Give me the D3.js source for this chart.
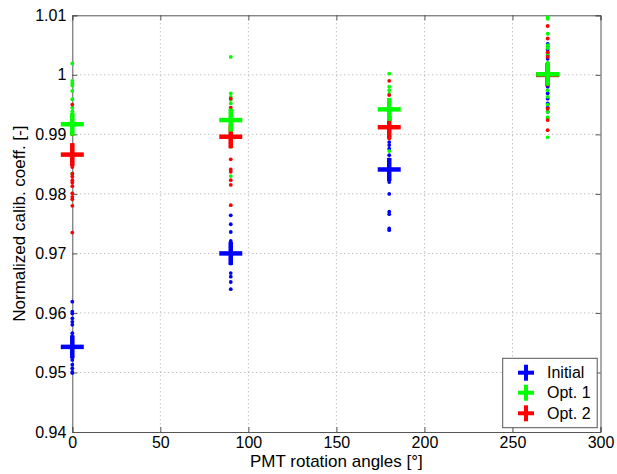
<!DOCTYPE html>
<html><head><meta charset="utf-8">
<script src="https://cdn.jsdelivr.net/npm/d3@7"></script>
<style>
body{margin:0;background:#fff;}
text{font-family:Arial,"Liberation Sans",Helvetica,sans-serif;}
</style></head>
<body><svg id="c" width="617" height="474"></svg>
<script>
const angles = [0, 90, 180, 270];
const xTicks = [0, 50, 100, 150, 200, 250, 300];
const yTicks = [0.94, 0.95, 0.96, 0.97, 0.98, 0.99, 1, 1.01];
const yTickLabels = ["0.94", "0.95", "0.96", "0.97", "0.98", "0.99", "1", "1.01"];
const seriesNames = ["Initial", "Opt. 1", "Opt. 2"];
const seriesColors = ["#0000ff", "#00ff00", "#ff0000"];

const initialMeans = [0.9543, 0.9700, 0.9841, 1.0000];
const opt1Means = [0.9917, 0.9924, 0.9942, 1.0001];
const opt2Means = [0.9866, 0.9896, 0.9912, 1.0000];

const initialDots = [
  [0.9619, 0.9602, 0.9599, 0.9591, 0.9585, 0.9580, 0.9566, 0.9560, 0.9556, 0.9550, 0.9546, 0.9540, 0.9536, 0.9531, 0.9526, 0.9521, 0.9513, 0.9507, 0.9501, 0.9499],
  [0.9764, 0.9749, 0.9736, 0.9721, 0.9715, 0.9710, 0.9706, 0.9702, 0.9698, 0.9694, 0.9690, 0.9686, 0.9683, 0.9667, 0.9661, 0.9652, 0.9640],
  [0.9887, 0.9882, 0.9876, 0.9865, 0.9858, 0.9850, 0.9845, 0.9840, 0.9835, 0.9830, 0.9825, 0.9820, 0.9800, 0.9770, 0.9766, 0.9742, 0.9739],
  [1.0052, 1.0047, 1.0042, 1.0037, 1.0032, 1.0027, 1.0010, 1.0000, 0.9990, 0.9980, 0.9969, 0.9960, 0.9952, 0.9945, 0.9938]
];
const opt1Dots = [
  [1.0019, 0.9990, 0.9986, 0.9982, 0.9973, 0.9959, 0.9945, 0.9939, 0.9930, 0.9925, 0.9920, 0.9915, 0.9910, 0.9905, 0.9900, 0.9834],
  [1.0030, 0.9969, 0.9963, 0.9958, 0.9952, 0.9940, 0.9930, 0.9924, 0.9918, 0.9910, 0.9900, 0.9891, 0.9879, 0.9830],
  [1.0002, 0.9980, 0.9974, 0.9968, 0.9955, 0.9950, 0.9945, 0.9940, 0.9935, 0.9930, 0.9920, 0.9909, 0.9872],
  [1.0097, 1.0094, 1.0069, 1.0050, 1.0045, 1.0035, 1.0020, 1.0010, 1.0000, 0.9990, 0.9985, 0.9974, 0.9963, 0.9950, 0.9938, 0.9929, 0.9927, 0.9895]
];
const opt2Dots = [
  [0.9950, 0.9930, 0.9900, 0.9880, 0.9875, 0.9870, 0.9865, 0.9860, 0.9855, 0.9850, 0.9845, 0.9834, 0.9829, 0.9823, 0.9819, 0.9813, 0.9801, 0.9795, 0.9791, 0.9780, 0.9735],
  [0.9960, 0.9945, 0.9935, 0.9925, 0.9910, 0.9900, 0.9896, 0.9890, 0.9885, 0.9880, 0.9858, 0.9841, 0.9837, 0.9823, 0.9815, 0.9781],
  [0.9990, 0.9966, 0.9955, 0.9935, 0.9925, 0.9912, 0.9904, 0.9897, 0.9893],
  [1.0082, 1.0061, 1.0038, 1.0030, 1.0010, 0.9990, 0.9943, 0.9924, 0.9907]
];

const svg = d3.select("#c");
const L = 72.3, R = 600.5, T = 15.3, B = 432;
const x = d3.scaleLinear().domain([0, 300]).range([L, R]);
const y = d3.scaleLinear().domain([0.94, 1.01]).range([B, T]);
const FONT = "Arial,'Liberation Sans',Helvetica,sans-serif";

// grid
const grid = svg.append("g");
xTicks.slice(1, -1).forEach(t => grid.append("line").attr("x1", x(t)).attr("x2", x(t)).attr("y1", T).attr("y2", B)
  .attr("stroke", "#a8a8a8").attr("stroke-width", 1).attr("stroke-dasharray", "1,3"));
yTicks.slice(1, -1).forEach(t => grid.append("line").attr("y1", y(t)).attr("y2", y(t)).attr("x1", L).attr("x2", R)
  .attr("stroke", "#a8a8a8").attr("stroke-width", 1).attr("stroke-dasharray", "1,3"));

// axes
svg.append("g").attr("transform", `translate(0,${B})`)
  .call(d3.axisBottom(x).tickValues(xTicks).tickSize(-5).tickPadding(5));
svg.append("g").attr("transform", `translate(${L},0)`)
  .call(d3.axisLeft(y).tickValues(yTicks).tickSize(-5).tickPadding(6).tickFormat((d, i) => yTickLabels[i]));
svg.append("g").attr("transform", `translate(0,${T})`).call(d3.axisTop(x).tickValues(xTicks).tickSize(-5).tickFormat(""));
svg.append("g").attr("transform", `translate(${R},0)`).call(d3.axisRight(y).tickValues(yTicks).tickSize(-5).tickFormat(""));
svg.selectAll(".domain").attr("stroke", "#555");
svg.selectAll(".tick line").attr("stroke", "#555");
svg.selectAll(".tick text").attr("font-size", 16).attr("fill", "#000").style("font-family", FONT);

svg.append("text").attr("x", (L + R) / 2).attr("y", 467).attr("text-anchor", "middle").attr("font-size", 17).text("PMT rotation angles [°]");
svg.append("text").attr("transform", `translate(25,${(T + B) / 2}) rotate(-90)`).attr("text-anchor", "middle").attr("font-size", 17).text("Normalized calib. coeff. [-]");

// dots
const plot = svg.append("g");
const dotSets = [initialDots, opt1Dots, opt2Dots];
dotSets.forEach((set, s) => {
  set.forEach((vals, i) => {
    plot.selectAll(null).data(vals).enter().append("circle")
      .attr("cx", x(angles[i])).attr("cy", d => y(d)).attr("r", 1.9)
      .attr("fill", seriesColors[s]);
  });
});

// mean crosses
const meanSets = [initialMeans, opt2Means, opt1Means];
const meanColors = [seriesColors[0], seriesColors[2], seriesColors[1]];
const arm = 11.5;
meanSets.forEach((m, s) => {
  m.forEach((v, i) => {
    const cx = x(angles[i]), cy = y(v);
    plot.append("line").attr("x1", cx - arm).attr("x2", cx + arm).attr("y1", cy).attr("y2", cy)
      .attr("stroke", meanColors[s]).attr("stroke-width", 4.5);
    plot.append("line").attr("x1", cx).attr("x2", cx).attr("y1", cy - arm).attr("y2", cy + arm)
      .attr("stroke", meanColors[s]).attr("stroke-width", 4.5);
  });
});

// legend
const lg = svg.append("g");
lg.append("rect").attr("x", 502.7).attr("y", 358.3).attr("width", 94.5).attr("height", 69.4)
  .attr("fill", "#fff").attr("stroke", "#555").attr("stroke-width", 1);
const legY = [372.7, 392.7, 413.3];
seriesNames.forEach((n, i) => {
  const cx = 526, cy = legY[i];
  lg.append("line").attr("x1", cx - 8).attr("x2", cx + 8).attr("y1", cy).attr("y2", cy).attr("stroke", seriesColors[i]).attr("stroke-width", 4);
  lg.append("line").attr("x1", cx).attr("x2", cx).attr("y1", cy - 8).attr("y2", cy + 8).attr("stroke", seriesColors[i]).attr("stroke-width", 4);
  lg.append("text").attr("x", 547).attr("y", cy + 5.5).attr("font-size", 16).text(n);
});
</script></body></html>
